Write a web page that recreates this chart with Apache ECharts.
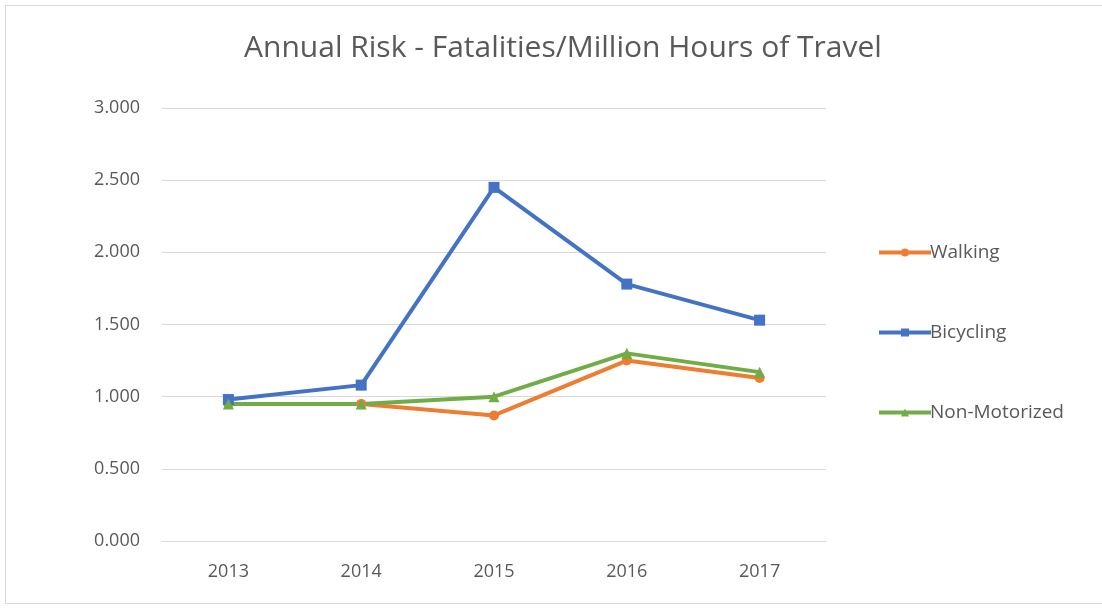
<!DOCTYPE html>
<html>
<head>
<meta charset="utf-8">
<script src="https://cdn.jsdelivr.net/npm/echarts@6/dist/echarts.min.js"></script>
<style>
    html, body { margin: 0; padding: 0; background: #fff; }
    #frame {
        position: absolute; left: 5px; top: 5px; width: 1097px; height: 599px;
        border-left: 1px solid #d9d9d9; border-top: 1px solid #d9d9d9; border-bottom: 1px solid #d9d9d9;
        box-sizing: border-box;
    }
    #chart { position: absolute; left: 0; top: 0; width: 1102px; height: 608px; }
</style>
</head>
<body>
<div id="frame"></div>
<div id="chart"></div>
<script>
    // data
    const years = ['2013', '2014', '2015', '2016', '2017'];
    const walking = [0.95, 0.95, 0.87, 1.25, 1.13];
    const bicycling = [0.98, 1.08, 2.45, 1.78, 1.53];
    const nonMotorized = [0.95, 0.95, 1.00, 1.30, 1.17];
    const yTicks = [0, 0.5, 1.0, 1.5, 2.0, 2.5, 3.0];

    const font = '"Open Sans", Roboto, sans-serif';
    const textColor = '#595959';

    const chart = echarts.init(document.getElementById('chart'));

    function line(name, data, color, symbol, size) {
        return {
            name: name,
            type: 'line',
            data: data,
            symbol: symbol,
            symbolSize: size,
            lineStyle: { color: color, width: 4 },
            itemStyle: { color: color },
            emphasis: { disabled: true }
        };
    }

    chart.setOption({
        animation: false,
        title: {
            text: 'Annual Risk - Fatalities/Million Hours of Travel',
            left: 558,
            textAlign: 'center',
            top: 28,
            textStyle: { color: textColor, fontSize: 30, fontWeight: 'normal', fontFamily: font }
        },
        legend: {
            orient: 'vertical',
            left: 872,
            top: 238,
            itemGap: 61,
            itemWidth: 52,
            itemHeight: 10,
            lineStyle: { width: 4 },
            data: ['Walking', 'Bicycling', 'Non-Motorized'],
            textStyle: { color: textColor, fontSize: 19, fontFamily: font, padding: [0, 0, 0, -6] }
        },
        grid: { left: 162, right: 276, top: 108, bottom: 67 },
        xAxis: {
            type: 'category',
            data: years,
            axisTick: { show: false },
            axisLine: { lineStyle: { color: '#d9d9d9', width: 1 } },
            axisLabel: { color: textColor, fontSize: 18, fontFamily: font, margin: 22 }
        },
        yAxis: {
            type: 'value',
            min: yTicks[0],
            max: yTicks[yTicks.length - 1],
            interval: 0.5,
            axisLine: { show: false },
            axisTick: { show: false },
            splitLine: { lineStyle: { color: '#d9d9d9', width: 1 } },
            axisLabel: {
                color: textColor, fontSize: 18, fontFamily: font, margin: 22,
                formatter: v => v.toFixed(3)
            }
        },
        series: [
            line('Walking', walking, '#ED7D31', 'circle', 10),
            line('Bicycling', bicycling, '#4472C4', 'rect', 11),
            line('Non-Motorized', nonMotorized, '#70AD47', 'triangle', 11)
        ]
    });
</script>
</body>
</html>
